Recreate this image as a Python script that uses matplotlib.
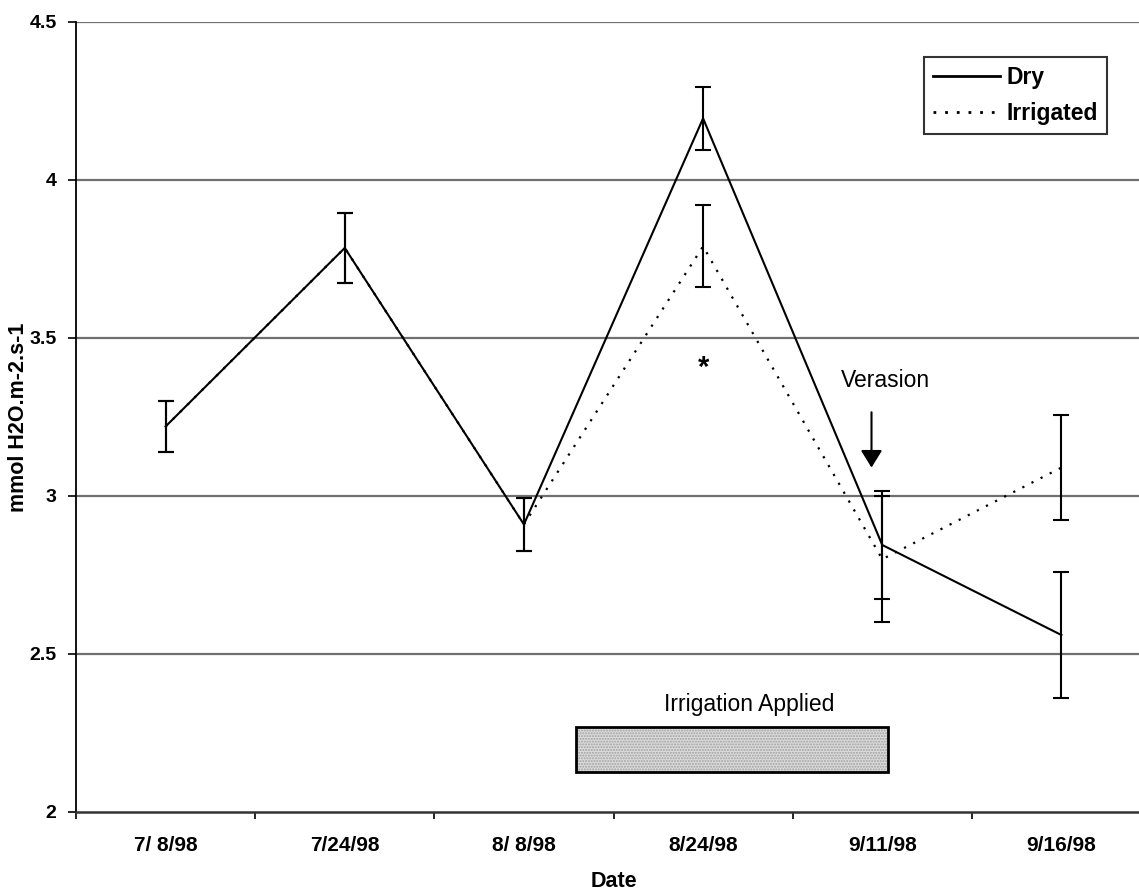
import matplotlib
matplotlib.use("Agg")
import matplotlib.pyplot as plt
from matplotlib.patches import Rectangle
from matplotlib.lines import Line2D

# Transpiration measurements, 1998 season
dates = ["7/ 8/98", "7/24/98", "8/ 8/98", "8/24/98", "9/11/98", "9/16/98"]
dry = [3.22, 3.785, 2.91, 4.195, 2.845, 2.56]
dry_err = [0.08, 0.11, 0.085, 0.10, 0.17, 0.20]
irrigated = [3.22, 3.785, 2.91, 3.79, 2.80, 3.09]
irrigated_err = [0.08, 0.11, 0.085, 0.13, 0.20, 0.165]
yticks = [2, 2.5, 3, 3.5, 4, 4.5]

plt.rcParams["font.family"] = ["Liberation Sans", "DejaVu Sans"]

fig = plt.figure(figsize=(11.39, 8.94), dpi=100)
ax = fig.add_axes([76 / 1139, 82 / 894, 1075 / 1139, 790 / 894])

x = list(range(len(dates)))

# horizontal reference lines
for yv in yticks[1:]:
    ax.axhline(yv, color="#6f6f6f", lw=1.6, zorder=1)

dot = (0, (1.0, 3.6))
ax.errorbar(x, irrigated, yerr=irrigated_err, color="black", lw=1.6,
            ls=dot, ecolor="black", elinewidth=1.5, capsize=6, capthick=1.5,
            zorder=3)
ax.errorbar(x, dry, yerr=dry_err, color="black", lw=1.5, ls="-",
            ecolor="black", elinewidth=1.5, capsize=6, capthick=1.5,
            zorder=4)

ax.set_ylim(2, 4.5)
ax.set_xlim(-0.5, 5.5)
ax.set_yticks(yticks)
ax.set_yticklabels(["2", "2.5", "3", "3.5", "4", "4.5"], fontsize=14,
                   fontweight="bold")
ax.set_xticks(x)
ax.set_xticklabels(dates, fontsize=15, fontweight="bold")
ax.set_xticks([i - 0.5 for i in range(len(dates) + 1)], minor=True)
ax.tick_params(axis="x", which="major", length=0, pad=17)
ax.tick_params(axis="x", which="minor", length=5, width=1.2)
ax.tick_params(axis="y", length=6, width=1.2, pad=8)

for side in ("top", "right"):
    ax.spines[side].set_visible(False)
ax.spines["left"].set_linewidth(1.3)
ax.spines["bottom"].set_linewidth(1.8)
ax.spines["bottom"].set_color("#333333")

ax.set_ylabel("mmol H2O.m-2.s-1", fontsize=15.5, fontweight="bold", labelpad=0)
ax.set_xlabel("Date", fontsize=15.5, fontweight="bold", labelpad=12)

# significance marker
ax.text(3, 3.405, "*", ha="center", va="center", fontsize=21, fontweight="bold")

# veraison arrow
ax.text(4.02, 3.365, "Verasion", ha="center", va="center", fontsize=16.5)
ax.annotate("", xy=(3.94, 3.09), xytext=(3.94, 3.265),
            arrowprops=dict(arrowstyle="-|>,head_width=0.65,head_length=1.05",
                            color="black", lw=1.5, shrinkA=0, shrinkB=0))

# irrigation period
ax.text(3.26, 2.34, "Irrigation Applied", ha="center", va="center",
        fontsize=16.5)
ax.add_patch(Rectangle((2.29, 2.127), 1.74, 0.142, facecolor="#dcdcdc",
                       edgecolor="#a0a0a0", hatch="......", lw=0, zorder=2))
ax.add_patch(Rectangle((2.29, 2.127), 1.74, 0.142, facecolor="none",
                       edgecolor="black", lw=2, zorder=3))

legend_handles = [Line2D([], [], color="black", lw=2.0, ls="-"),
                  Line2D([], [], color="black", lw=2.0, ls=(0, (1.0, 3.2)))]
leg = ax.legend(legend_handles, ["Dry", "Irrigated"],
                loc="upper right", bbox_to_anchor=(1107 / 1139, 1 - 57 / 894),
                bbox_transform=fig.transFigure, fancybox=False, framealpha=1,
                edgecolor="#333333", handlelength=2.9, handletextpad=0.3,
                borderpad=0.4, labelspacing=0.55, borderaxespad=0,
                prop={"weight": "bold", "size": 16.5})
leg.get_frame().set_linewidth(1.5)

fig.savefig("out.png", dpi=100)
